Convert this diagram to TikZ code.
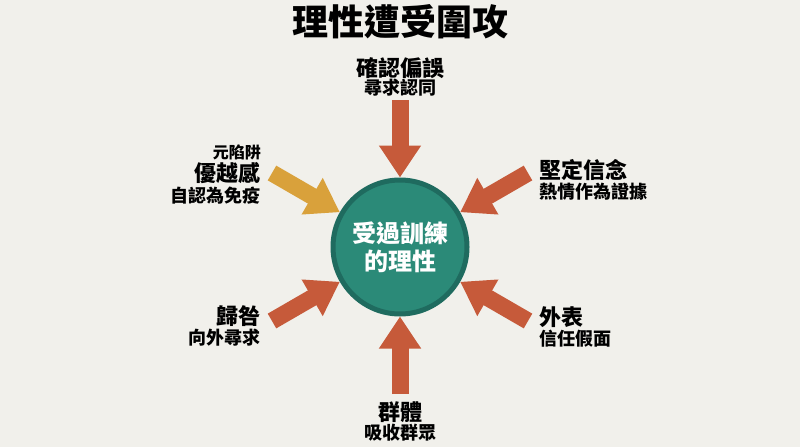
\documentclass[tikz,border=0pt]{standalone}
\usepackage{fontspec}
\setmainfont{Noto Sans CJK TC}
\usetikzlibrary{arrows.meta}

\definecolor{bgcol}{HTML}{F1F0EB}
\definecolor{tealfill}{HTML}{2B8A78}
\definecolor{tealring}{HTML}{1F6B5F}
\definecolor{rust}{HTML}{C65A3A}
\definecolor{mustard}{HTML}{D9A13B}

\begin{document}
\begin{tikzpicture}[x=1pt, y=-1pt,
    push/.style={line width=17pt, draw=rust, -{Triangle[width=40pt, length=32pt]}},
    head/.style={font=\fontsize{22}{24}\selectfont\bfseries, inner sep=0pt},
    sub/.style={font=\fontsize{18}{20}\selectfont\bfseries, inner sep=0pt},
    small/.style={font=\fontsize{16}{18}\selectfont\bfseries, inner sep=0pt}]
\fill[bgcol] (0,0) rectangle (800,447);
\useasboundingbox (0,0) rectangle (800,447);

\node[font=\fontsize{36}{40}\selectfont\bfseries, inner sep=0pt] (title) at (400,22) {理性遭受圍攻};

\node[circle, minimum size=134pt, fill=tealfill, draw=tealring, line width=5pt,
      text=white, align=center, font=\fontsize{24}{28}\selectfont\bfseries] (core) at (400,247) {受過訓練\\的理性};

% tails of the arrows
\coordinate (tTop) at (400,100);
\coordinate (tUL) at (272,173);
\coordinate (tUR) at (528,173);
\coordinate (tLL) at (272,321);
\coordinate (tLR) at (528,321);
\coordinate (tBot) at (400,394);

\draw[push] (tTop) -- (core);
\draw[push, draw=mustard] (tUL) -- (core);
\draw[push] (tUR) -- (core);
\draw[push] (tLL) -- (core);
\draw[push] (tLR) -- (core);
\draw[push] (tBot) -- (core);

% top
\node[head] (biasA) at (400,68) {確認偏誤};
\node[sub] (biasB) at (400,88) {尋求認同};

% upper left
\node[small, anchor=east] (metaA) at (261,152) {元陷阱};
\node[head, anchor=east] (metaB) at (261,173) {優越感};
\node[sub, anchor=east] (metaC) at (261,196) {自認為免疫};

% upper right
\node[head, anchor=west] (beliefA) at (539,170) {堅定信念};
\node[sub, anchor=west] (beliefB) at (539,192) {熱情作為證據};

% lower left
\node[head, anchor=east] (blameA) at (261,316) {歸咎};
\node[sub, anchor=east] (blameB) at (261,338) {向外尋求};

% lower right
\node[head, anchor=west] (lookA) at (539,317) {外表};
\node[sub, anchor=west] (lookB) at (539,339) {信任假面};

% bottom
\node[head] (groupA) at (400,412) {群體};
\node[sub] (groupB) at (400,433) {吸收群眾};
\end{tikzpicture}
\end{document}
